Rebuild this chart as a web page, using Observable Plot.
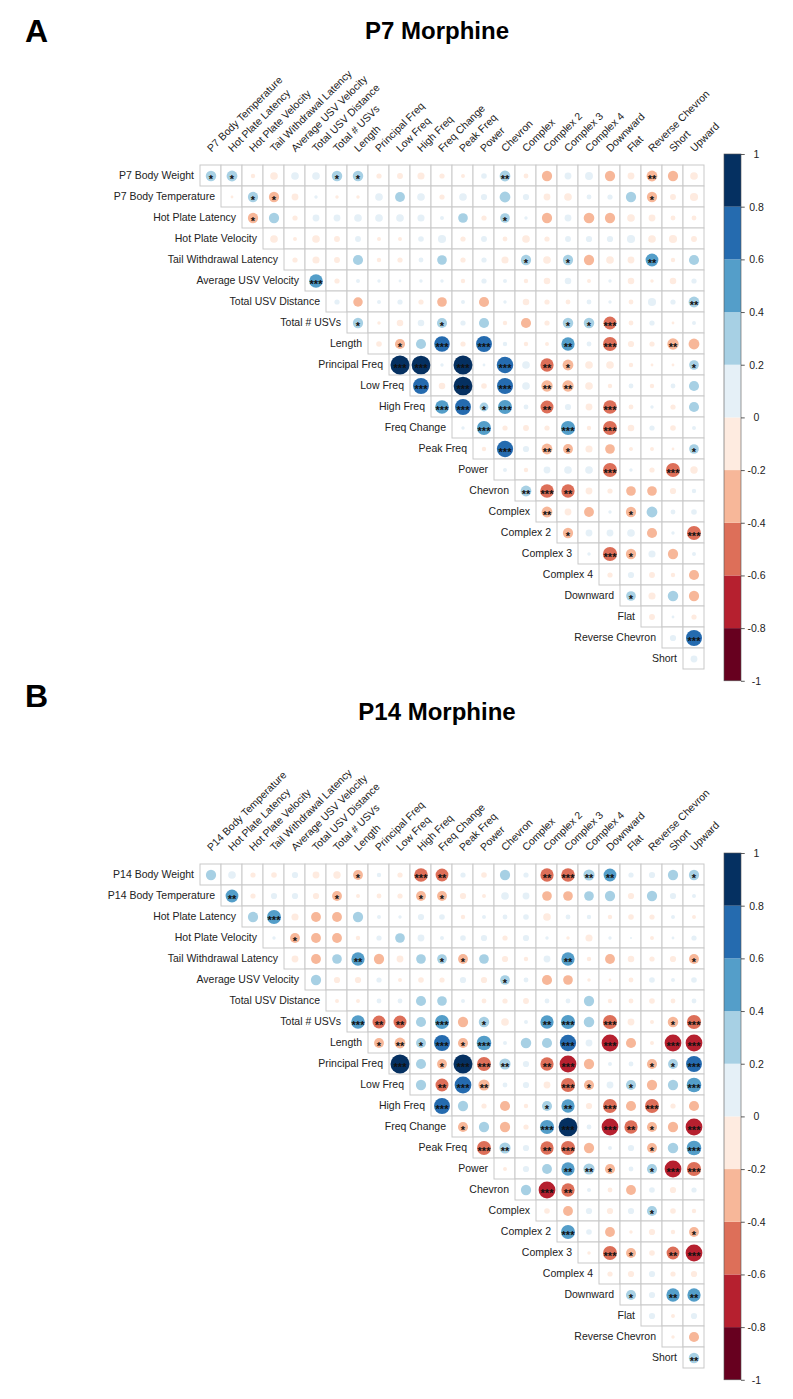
<!DOCTYPE html>
<html><head><meta charset="utf-8">
<script src="https://cdn.jsdelivr.net/npm/d3@7"></script>
<script src="https://cdn.jsdelivr.net/npm/@observablehq/plot@0.6"></script>
<style>
body{margin:0;background:#fff;}
#root{position:relative;width:793px;height:1399px;font-family:"Liberation Sans",Arial,sans-serif;overflow:hidden}
.letter{position:absolute;font-weight:bold;font-size:32px;line-height:1;color:#000}
.title{position:absolute;font-weight:bold;font-size:24px;line-height:1;color:#000;white-space:nowrap;transform:translateX(-50%)}
.abs{position:absolute}
</style></head><body><div id="root"></div>
<script>
// ---------- data ----------
const varsA = ["P7 Body Weight","P7 Body Temperature","Hot Plate Latency","Hot Plate Velocity","Tail Withdrawal Latency","Average USV Velocity","Total USV Distance","Total # USVs","Length","Principal Freq","Low Freq","High Freq","Freq Change","Peak Freq","Power","Chevron","Complex","Complex 2","Complex 3","Complex 4","Downward","Flat","Reverse Chevron","Short","Upward"];
const varsB = ["P14 Body Weight","P14 Body Temperature","Hot Plate Latency","Hot Plate Velocity","Tail Withdrawal Latency","Average USV Velocity","Total USV Distance","Total # USVs","Length","Principal Freq","Low Freq","High Freq","Freq Change","Peak Freq","Power","Chevron","Complex","Complex 2","Complex 3","Complex 4","Downward","Flat","Reverse Chevron","Short","Upward"];
const rowsA = varsA.slice(0, 24), colsA = varsA.slice(1);
const rowsB = varsB.slice(0, 24), colsB = varsB.slice(1);

// upper-triangle correlations: row i holds the values for columns i..23
const corrA = [
 [0.28,0.30,-0.05,-0.15,0.15,0.15,0.28,0.28,-0.07,-0.09,-0.13,-0.07,-0.04,0.08,0.30,-0.06,-0.27,0.12,0.16,-0.27,-0.12,-0.30,-0.27,-0.15],
 [-0.02,0.27,-0.27,-0.12,0.03,-0.03,-0.03,0.15,0.25,0.15,-0.07,0.15,0.10,0.30,0.10,-0.12,-0.15,0.06,0.07,0.27,-0.27,-0.09,-0.17],
 [-0.27,0.27,-0.07,0.12,0.12,0.15,0.15,0.15,0.13,0.04,0.24,-0.07,0.24,0.03,-0.27,0.12,-0.29,-0.27,-0.15,-0.12,-0.06,-0.06],
 [-0.15,-0.04,-0.15,-0.09,0.09,-0.04,-0.04,0.08,0.17,-0.07,0.09,-0.06,-0.15,-0.07,0.09,0.10,0.10,0.17,-0.15,-0.17,-0.09],
 [-0.07,-0.13,-0.09,0.26,-0.05,-0.07,0.06,0.24,-0.07,0.07,-0.13,0.27,-0.15,0.27,-0.27,-0.15,-0.12,0.42,-0.05,0.26],
 [0.48,-0.07,0.04,0.03,0.02,0.03,0.03,-0.05,0.07,0.04,-0.05,-0.11,0.11,-0.04,0.03,-0.11,-0.03,-0.11,0.07],
 [0.07,-0.23,0.04,0.07,-0.07,-0.24,0.04,-0.26,0.03,-0.11,-0.07,-0.06,0.06,0.03,-0.06,0.17,0.07,0.30],
 [0.27,-0.03,-0.11,0.11,0.26,0.07,0.26,-0.05,-0.26,-0.07,0.28,0.28,-0.42,-0.06,0.07,-0.02,0.04],
 [-0.08,-0.26,0.26,0.62,-0.07,0.65,0.05,-0.05,-0.04,0.45,0.06,-0.50,-0.10,-0.07,-0.33,-0.30],
 [0.93,0.90,0.03,0.92,0.02,0.70,0.15,-0.45,-0.30,-0.15,-0.15,-0.05,-0.02,-0.02,0.24],
 [0.65,-0.11,0.90,-0.08,0.66,0.15,-0.33,-0.33,-0.15,-0.05,0.06,-0.05,0.06,0.26],
 [0.48,0.65,0.20,0.50,0.06,-0.43,0.10,-0.12,-0.48,-0.06,0.03,-0.07,0.26],
 [0.03,0.50,-0.07,-0.09,-0.07,0.52,-0.05,-0.50,-0.11,0.07,-0.08,0.04],
 [-0.05,0.68,0.10,-0.30,-0.25,-0.13,-0.24,-0.04,-0.04,-0.02,0.24],
 [0.04,-0.05,0.12,0.15,0.15,-0.50,0.03,-0.07,-0.50,-0.14],
 [0.30,-0.48,-0.45,-0.12,-0.07,-0.24,-0.24,-0.10,0.05],
 [-0.30,-0.12,-0.25,0.03,-0.27,0.30,0.06,0.08],
 [-0.27,0.12,0.12,0.15,-0.26,0.03,-0.50],
 [0.03,-0.52,-0.27,0.13,-0.27,0.04],
 [-0.07,0.10,-0.09,-0.05,-0.26],
 [0.24,-0.13,0.28,-0.27],
 [-0.09,0.02,-0.07],
 [0.10,0.66],
 [0.12]
];
const starsA = ["110000110000002000000200","01100000000000000000100","1000000000001000000000","000000000000000000000","00000000000101000200","3000000000000000000","000000000000000002","10001000001130000","0103030002030020","330303021000001","30303022000000","3313020030000","030003030000","03021000001","0000030030","232000000","20001000","1000003","031000","00000","1000","000","03","0"];

const corrB = [
 [0.27,0.15,-0.07,-0.08,0.10,-0.12,-0.14,-0.25,0.05,-0.07,-0.48,-0.42,0.07,-0.08,0.27,0.07,-0.45,-0.48,0.32,0.42,0.07,0.10,0.27,0.27],
 [0.42,-0.07,0.10,0.10,-0.10,-0.25,-0.04,-0.06,-0.07,-0.25,-0.25,-0.10,-0.04,0.15,0.12,-0.24,-0.24,0.24,0.27,-0.10,0.27,0.10,0.04],
 [0.27,0.50,-0.13,-0.25,-0.25,0.27,0.04,0.03,0.10,0.08,-0.05,0.04,0.06,0.08,-0.15,0.06,0.05,-0.05,-0.08,-0.07,0.04,-0.04],
 [0.03,-0.25,-0.25,-0.25,-0.05,0.07,0.24,0.12,0.04,0.08,0.10,-0.07,0.10,0.03,-0.03,-0.13,0.03,0.01,-0.04,0.02,0.07],
 [-0.12,-0.25,0.24,0.45,-0.27,-0.12,0.24,0.24,-0.25,0.24,-0.10,-0.05,0.12,0.45,-0.05,-0.25,-0.11,-0.07,-0.10,-0.25],
 [0.27,-0.10,-0.10,0.07,-0.04,-0.08,-0.07,0.10,-0.10,0.24,0.06,-0.26,-0.24,-0.03,-0.02,-0.06,0.08,0.04,0.08],
 [-0.04,-0.04,0.06,0.06,0.26,0.24,0.04,-0.06,-0.07,-0.09,0.06,0.06,0.27,-0.05,-0.06,-0.08,-0.06,0.06],
 [0.48,-0.43,-0.43,0.26,0.50,-0.27,0.28,-0.15,0.04,0.45,0.52,0.28,-0.52,-0.12,-0.04,-0.28,-0.52],
 [-0.25,-0.30,0.25,0.65,-0.26,0.55,0.04,0.28,0.26,0.68,0.12,-0.72,-0.26,-0.04,-0.72,-0.72],
 [0.92,0.26,-0.25,0.92,-0.50,0.32,0.10,-0.45,-0.72,-0.27,0.04,0.06,-0.26,0.25,0.65],
 [0.27,-0.43,0.72,-0.32,0.06,0.10,-0.12,-0.52,-0.26,0.12,0.26,-0.27,0.27,0.55],
 [0.65,0.27,-0.07,-0.26,-0.05,0.26,0.45,-0.10,-0.50,-0.26,-0.50,-0.07,-0.26],
 [-0.26,0.27,-0.27,-0.07,0.52,0.90,0.06,-0.72,-0.45,-0.26,-0.27,-0.72],
 [-0.50,0.32,0.10,-0.45,-0.52,-0.27,0.04,0.10,-0.25,0.28,0.55],
 [-0.04,0.10,0.25,0.45,0.32,-0.26,0.06,0.26,-0.72,-0.52],
 [0.27,-0.72,-0.45,0.04,-0.06,-0.25,0.08,-0.10,0.07],
 [-0.08,-0.25,0.10,-0.10,0.10,0.26,-0.08,-0.05],
 [0.50,0.08,-0.25,-0.03,-0.10,-0.05,-0.25],
 [-0.03,-0.50,-0.25,-0.08,-0.42,-0.72],
 [-0.07,-0.10,0.10,-0.07,-0.10],
 [0.26,0.10,0.45,0.45],
 [0.10,-0.04,0.10],
 [-0.03,-0.26],
 [0.28]
];
const starsB = ["000000010032000023220001","20000100011000000000000","0300000000000000000000","010000000000000000000","00020001100002000001","0000000001000000000","000000000000000000","32203010023030013","1213130003030033","301332023000113","02320003101003","3000012030300","100033032103","32023000103","0002210133","032000000","00000100","3000001","031023","00000","1022","000","00","2"];

const legendTicks = [1,0.8,0.6,0.4,0.2,0,-0.2,-0.4,-0.6,-0.8,-1];
const binEdges = [-1,-0.8,-0.6,-0.4,-0.2,0,0.2,0.4,0.6,0.8,1];
const palette = ["#67001F","#B6202F","#DD6F59","#F7B799","#FEEBE0","#E5F0F7","#A7D0E4","#549EC9","#256BAF","#053061"];

// ---------- layout ----------
const FONT = "Liberation Sans, Arial, Helvetica, sans-serif";
const CELL = 21.95;
const GX0 = 189;
const thresholds = binEdges.slice(1, -1);
const root = document.getElementById("root");

function addDiv(cls, text, left, top) {
  const d = document.createElement("div");
  d.className = cls; d.textContent = text;
  d.style.left = left + "px"; d.style.top = top + "px";
  root.appendChild(d);
}

function panel(rows, cols, corr, stars, svgTop, svgH, gy0) {
  const data = [];
  corr.forEach((arr, i) => arr.forEach((v, k) => {
    data.push({row: rows[i], col: cols[i + k], v, s: +stars[i][k]});
  }));
  const gy1 = gy0 + CELL * 24;
  const chart = Plot.plot({
    width: 793, height: svgH, margin: 0,
    style: {fontFamily: FONT, background: "transparent", overflow: "visible"},
    x: {type: "band", domain: cols, range: [GX0, GX0 + CELL * 24], padding: 0, axis: null},
    y: {type: "band", domain: rows, range: [gy0, gy1], padding: 0, axis: null},
    r: {type: "sqrt", domain: [0, 1], range: [0, 0.45 * CELL]},
    color: {type: "threshold", domain: thresholds, range: palette},
    marks: [
      Plot.cell(data, {x: "col", y: "row", fill: "white", stroke: "#c9c9c9", strokeWidth: 1, inset: 0}),
      Plot.dot(data, {x: "col", y: "row", r: d => Math.abs(d.v), fill: "v", stroke: "none"}),
      Plot.text(data.filter(d => d.s > 0), {x: "col", y: "row", text: d => "*".repeat(d.s), fontSize: 11, fontWeight: "bold", dy: 3, fill: "#111", fontFamily: FONT}),
      Plot.text(rows, {x: (d, i) => cols[i], y: d => d, text: d => d, textAnchor: "end", dx: -(CELL / 2 + 6), fontSize: 10.5, fill: "#222", fontFamily: FONT}),
      Plot.text(cols, {x: d => d, y: () => rows[0], text: d => d, rotate: -45, textAnchor: "start", dx: -2, dy: -(CELL / 2 + 15), fontSize: 10.5, fill: "#222", fontFamily: FONT})
    ]
  });
  chart.classList.add("abs");
  chart.style.left = "0px"; chart.style.top = svgTop + "px";
  root.appendChild(chart);

  const bins = d3.range(10).map(i => ({lo: binEdges[i], hi: binEdges[i + 1], mid: (binEdges[i] + binEdges[i + 1]) / 2}));
  const legend = Plot.plot({
    width: 93, height: svgH, margin: 0,
    style: {fontFamily: FONT, background: "transparent", overflow: "visible"},
    x: {domain: [0, 1], range: [24, 41], axis: null},
    y: {domain: [-1, 1], range: [gy1, gy0], axis: null},
    color: {type: "threshold", domain: thresholds, range: palette},
    marks: [
      Plot.rect(bins, {x1: 0, x2: 1, y1: "lo", y2: "hi", fill: "mid"}),
      Plot.rect([0], {x1: 0, x2: 1, y1: -1, y2: 1, fill: "none", stroke: "#555", strokeWidth: 0.6}),
      Plot.ruleY(legendTicks, {y: d => d, x1: 1, x2: 1.22, stroke: "#333", strokeWidth: 0.8}),
      Plot.text(legendTicks, {x: 1, y: d => d, text: d => String(d), dx: 15, textAnchor: "middle", fontSize: 10.5, fill: "#222", fontFamily: FONT})
    ]
  });
  legend.classList.add("abs");
  legend.style.left = "700px"; legend.style.top = svgTop + "px";
  root.appendChild(legend);
}

panel(rowsA, colsA, corrA, starsA, 0, 700, 154);
panel(rowsB, colsB, corrB, starsB, 700, 699, 153);

addDiv("letter", "A", 25, 15);
addDiv("title", "P7 Morphine", 437, 19);
addDiv("letter", "B", 25, 680);
addDiv("title", "P14 Morphine", 437, 700);
</script>
</body></html>
